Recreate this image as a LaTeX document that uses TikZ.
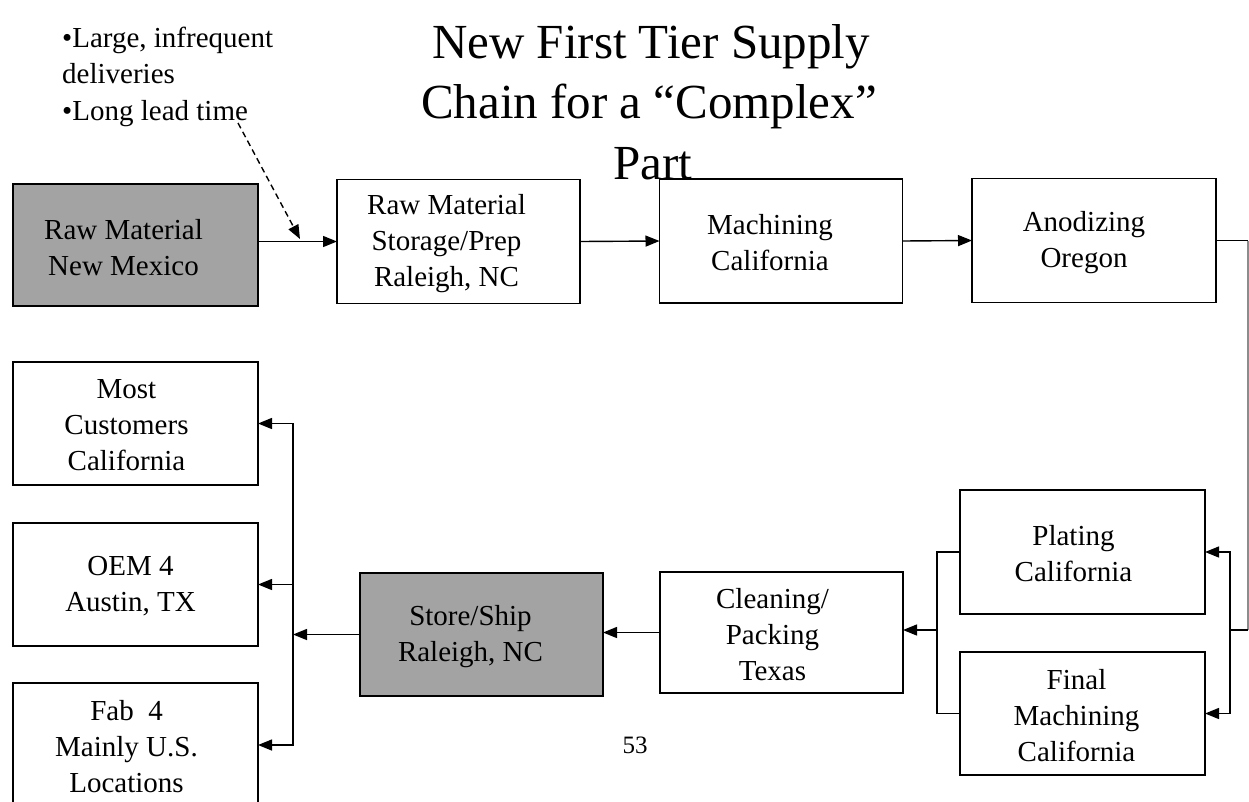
\documentclass[tikz,border=0pt]{standalone}
\usepackage{fontspec}
\setmainfont{Liberation Serif}
\usetikzlibrary{arrows.meta,calc}
\definecolor{boxgray}{RGB}{163,163,163}
\begin{document}
\begin{tikzpicture}[x=1pt,y=-1pt,
  box/.style={draw=black, line width=1.4pt, fill=white, minimum width=243pt, minimum height=123pt, inner sep=0pt, outer sep=0pt},
  graybox/.style={box, fill=boxgray},
  txt/.style={font=\fontsize{29}{36}\selectfont, align=center, inner sep=0pt},
  ttl/.style={font=\fontsize{49}{58}\selectfont, inner sep=0pt, anchor=base},
  note/.style={font=\fontsize{29}{36}\selectfont, inner sep=0pt, anchor=base west},
  conn/.style={line width=1.4pt, draw=black},
  arr/.style={conn, -{Triangle[length=14pt,width=11pt]}},
]
\useasboundingbox (0,0) rectangle (1249,801);
\clip (0,0) rectangle (1249,801);

% title
\node[ttl] (t1) at (651,58) {New First Tier Supply};
\node[ttl] (t2) at (649,118) {Chain for a “Complex”};
\node[ttl] (t3) at (653,179) {Part};

% notes
\node[note] (n1) at (62,47) {•Large, infrequent};
\node[note] (n2) at (62,83) {deliveries};
\node[note] (n3) at (62,120) {•Long lead time};

% top row
\node[graybox, minimum width=245pt, minimum height=122pt] (rm) at (135.5,245) {};
\node[txt] (rmt) at ([xshift=-12pt,yshift=-3pt]rm.center) {Raw Material\\New Mexico};
\node[box, minimum height=124pt] (st) at (458.5,241.5) {};
\node[txt] (stt) at ([xshift=-12pt,yshift=-2pt]st.center) {Raw Material\\Storage/Prep\\Raleigh, NC};
\node[box, minimum height=124pt] (mc) at (781,241) {};
\node[txt] (mct) at ([xshift=-11pt,yshift=-2pt]mc.center) {Machining\\California};
\node[box, minimum width=244pt, minimum height=124pt] (an) at (1094,240.5) {};
\node[txt] (ant) at ([xshift=-10pt,yshift=-2pt]an.center) {Anodizing\\Oregon};

% bottom row
\node[box, minimum width=245pt] (mcu) at (135.5,423.5) {};
\node[txt] (mcut) at ([xshift=-9pt,yshift=-2pt]mcu.center) {Most\\Customers\\California};
\node[box, minimum width=245pt] (oem) at (135.5,584.5) {};
\node[txt] (oemt) at ([xshift=-5pt,yshift=-2pt]oem.center) {OEM 4\\Austin, TX};
\node[box, minimum width=245pt, minimum height=124pt] (fab) at (135.5,745) {};
\node[txt] (fabt) at ([xshift=-9pt,yshift=-2pt]fab.center) {Fab\ \ 4\\Mainly U.S.\\Locations};
\node[graybox] (ss) at (481.5,634.5) {};
\node[txt] (sst) at ([xshift=-11pt,yshift=-2pt]ss.center) {Store/Ship\\Raleigh, NC};
\node[box, minimum height=121pt] (cl) at (781.5,632.5) {};
\node[txt] (clt) at ([xshift=-9pt,yshift=-2pt]cl.center) {Cleaning/\\Packing\\Texas};
\node[box, minimum width=245pt, minimum height=124pt] (pl) at (1082.5,552) {};
\node[txt] (plt) at ([xshift=-9pt,yshift=-2pt]pl.center) {Plating\\California};
\node[box, minimum width=245pt] (fm) at (1082.5,713.5) {};
\node[txt] (fmt) at ([xshift=-6pt,yshift=-2pt]fm.center) {Final\\Machining\\California};

\node[font=\fontsize{25}{30}\selectfont, anchor=base, inner sep=0pt] (pg) at (635,753) {53};

% top connectors
\draw[arr] (rm.east |- st.west) -- (st.west);
\draw[arr] (st.east) -- (mc.west);
\draw[arr] (mc.east) -- (an.west);
\coordinate (dstart) at (238,123);
\coordinate (dend) at (300,239);
\draw[arr, dash pattern=on 6pt off 4pt] (dstart) -- (dend);

% right side link
\coordinate (redge) at (1248,240.5);
\coordinate (rbot) at (1248,630);
\coordinate (rjoin) at (1230,630);
\draw[conn] (an.east) -- (redge);
\draw[conn, draw=black!45] (redge) -- (rbot);
\draw[conn] (rbot) -- (rjoin);
\draw[arr] (rjoin) |- (pl.east);
\draw[arr] (rjoin) |- (fm.east);

% merge to cleaning
\coordinate (ljoin) at (937,630);
\draw[conn] (pl.west) -| (ljoin) |- (fm.west);
\draw[arr] (ljoin) -- (ljoin -| cl.east);
\draw[arr] (cl.west) -- (cl.west -| ss.east);

% distribution
\coordinate (cjoin) at (293,634.5);
\draw[arr] (ss.west) -- (cjoin);
\draw[arr] (cjoin) |- (mcu.east);
\draw[arr] (cjoin) |- (fab.east);
\draw[arr] (cjoin |- oem.east) -- (oem.east);
\end{tikzpicture}
\end{document}
